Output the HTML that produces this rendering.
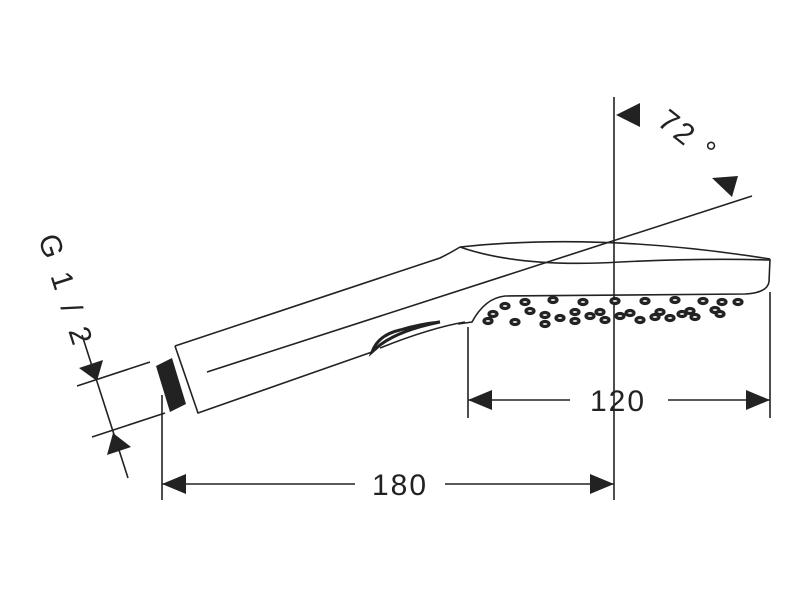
<!DOCTYPE html>
<html><head><meta charset="utf-8"><style>body{margin:0;background:#fff}svg{display:block}</style></head><body>
<svg width="800" height="600" viewBox="0 0 800 600" xmlns="http://www.w3.org/2000/svg" font-family="Liberation Sans, sans-serif">
<g fill="none" stroke="#222" stroke-width="1.6">
<path d="M175,346 L440,258 Q452,252 460,247"/>
<path d="M175,346 L198,413 L372,352"/>
<path d="M380,348 Q430,328 465,322"/>
<path d="M372,352 Q378,335 400,330 Q420,324 440,322 Q400,330 380,345 Z" fill="#fff" stroke-width="3"/>
<path d="M460,247 Q600,232 770,259"/>
<path d="M460,247 Q520,268 620,262 Q700,258 770,260"/>
<path d="M770,259 L769,282 Q767,293 745,294 L505,296 Q485,298 472,322 L458,324"/>
<line x1="207" y1="372" x2="752" y2="196"/>
<line x1="614" y1="97" x2="614" y2="500"/>
<line x1="162" y1="395" x2="162" y2="500"/>
<line x1="468" y1="327" x2="468" y2="418"/>
<line x1="770" y1="292" x2="770" y2="418"/>
<line x1="162" y1="484" x2="355" y2="484"/>
<line x1="445" y1="484" x2="614" y2="484"/>
<line x1="468" y1="400" x2="570" y2="400"/>
<line x1="668" y1="400" x2="770" y2="400"/>
<line x1="77" y1="386" x2="150" y2="362"/>
<line x1="92" y1="437" x2="165" y2="413"/>
<line x1="82" y1="335" x2="128" y2="478"/>
</g>
<path d="M156,366 L172,358 L186,404 L170,412 Z" fill="#222"/>
<g fill="#fff" stroke="#222" stroke-width="3.2">
<ellipse cx="505" cy="306" rx="4" ry="2.5"/><ellipse cx="525" cy="302" rx="4" ry="2.5"/><ellipse cx="553" cy="300" rx="4" ry="2.5"/><ellipse cx="583" cy="302" rx="4" ry="2.5"/><ellipse cx="615" cy="301" rx="4" ry="2.5"/><ellipse cx="645" cy="301" rx="4" ry="2.5"/><ellipse cx="675" cy="300" rx="4" ry="2.5"/><ellipse cx="703" cy="301" rx="4" ry="2.5"/><ellipse cx="722" cy="302" rx="4" ry="2.5"/><ellipse cx="738" cy="302" rx="4" ry="2.5"/>
<ellipse cx="493" cy="314" rx="4" ry="2.5"/><ellipse cx="545" cy="315" rx="4" ry="2.5"/><ellipse cx="575" cy="312" rx="4" ry="2.5"/><ellipse cx="600" cy="312" rx="4" ry="2.5"/><ellipse cx="630" cy="313" rx="4" ry="2.5"/><ellipse cx="660" cy="312" rx="4" ry="2.5"/><ellipse cx="690" cy="311" rx="4" ry="2.5"/><ellipse cx="715" cy="310" rx="4" ry="2.5"/>
<ellipse cx="488" cy="321" rx="4" ry="2.5"/><ellipse cx="515" cy="322" rx="4" ry="2.5"/><ellipse cx="545" cy="324" rx="4" ry="2.5"/><ellipse cx="575" cy="321" rx="4" ry="2.5"/><ellipse cx="605" cy="320" rx="4" ry="2.5"/><ellipse cx="640" cy="320" rx="4" ry="2.5"/><ellipse cx="670" cy="318" rx="4" ry="2.5"/><ellipse cx="695" cy="317" rx="4" ry="2.5"/><ellipse cx="720" cy="314" rx="4" ry="2.5"/>
<ellipse cx="530" cy="311" rx="4" ry="2.5"/><ellipse cx="560" cy="318" rx="4" ry="2.5"/><ellipse cx="590" cy="316" rx="4" ry="2.5"/><ellipse cx="620" cy="316" rx="4" ry="2.5"/><ellipse cx="655" cy="317" rx="4" ry="2.5"/><ellipse cx="682" cy="314" rx="4" ry="2.5"/>
</g>
<g fill="#222">
<polygon points="162,484 186,474 186,494"/>
<polygon points="614,484 590,474 590,494"/>
<polygon points="468,400 492,390 492,410"/>
<polygon points="770,400 746,390 746,410"/>
<polygon points="97,381 79,368 103,360"/>
<polygon points="113,433 107,455 131,447"/>
<polygon points="616,115 640,103 640,127"/>
<polygon points="732,197 712,178 738,176"/>
</g>
<g fill="#222" font-size="30">
<text x="400" y="495" text-anchor="middle" letter-spacing="2">180</text>
<text x="618" y="411" text-anchor="middle" letter-spacing="2">120</text>
<text transform="translate(38,238) rotate(72)" letter-spacing="4" xml:space="preserve">G 1 / 2</text>
<text transform="translate(656,124) rotate(38)" letter-spacing="3" xml:space="preserve">72 °</text>
</g>
</svg>
</body></html>
